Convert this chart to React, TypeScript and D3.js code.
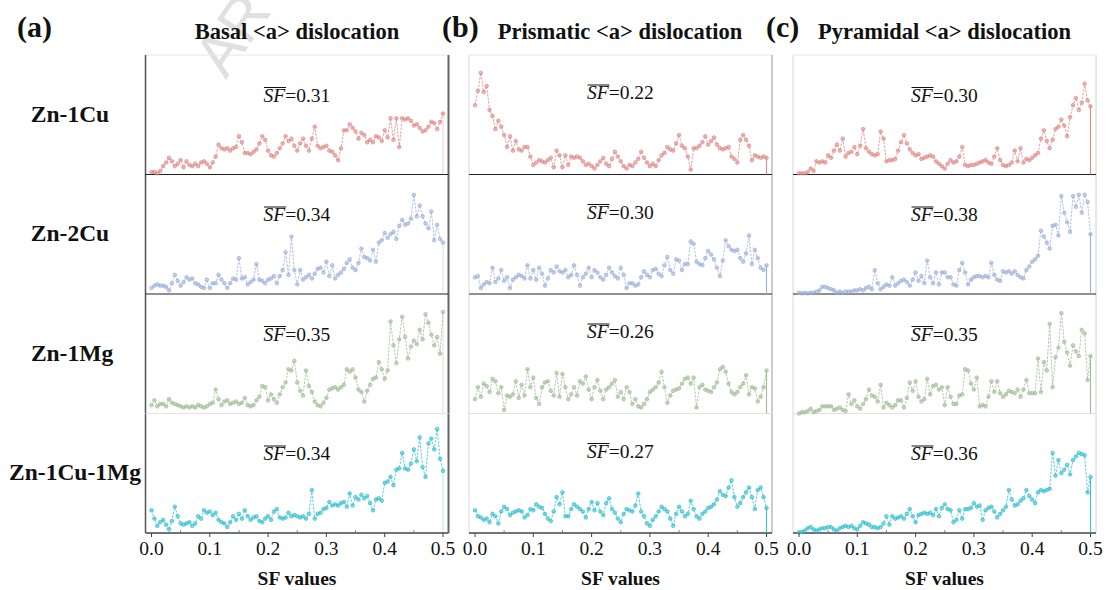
import React from "react";
import * as d3 from "d3";

// ---------- data ----------
const alloys = ["Zn-1Cu", "Zn-2Cu", "Zn-1Mg", "Zn-1Cu-1Mg"];
const systems = ["Basal <a> dislocation", "Prismatic <a> dislocation", "Pyramidal <a> dislocation"];
const panelTags = ["(a)", "(b)", "(c)"];
const xTicks = [0, 0.1, 0.2, 0.3, 0.4, 0.5];
const xMinorTicks = [0.05, 0.15, 0.25, 0.35, 0.45];
const binStep = 0.005;
const meanBasal = [0.31, 0.34, 0.35, 0.34];
const meanPrismatic = [0.22, 0.30, 0.26, 0.27];
const meanPyramidal = [0.30, 0.38, 0.35, 0.36];
const alloyColors = ["#dc8684", "#9aaed9", "#9cbb93", "#2dbdcd"];

// relative frequency (% of panel scale), bins 0..0.5 every 0.005
const basal_Zn1Cu = [2,2,1,3,7,10,14,11,7,9, 12,6,11,8,7,9,7,10,11,9, 6,10,15,25,22,21,22,20,22,23, 32,27,18,18,17,19,21,26,32,29, 20,16,15,18,22,26,32,28,30,24, 20,26,30,24,20,30,40,24,22,23, 24,20,19,16,12,22,37,37,42,39, 36,30,35,33,27,29,27,32,31,28, 37,31,47,29,47,23,47,46,47,45, 41,42,39,36,37,40,44,43,38,44, 51];
const basal_Zn2Cu = [5,7,8,7,7,6,3,9,16,11, 7,10,14,12,13,9,8,6,5,12, 5,9,9,16,12,9,5,9,13,12, 30,13,14,8,10,12,25,12,11,9, 12,13,15,9,15,20,35,16,48,20, 8,20,12,14,16,13,17,21,22,18, 27,15,24,13,16,18,21,26,29,22, 20,26,38,31,30,28,37,27,43,45, 51,47,50,52,46,57,62,58,59,63, 83,65,74,65,59,55,69,45,58,46, 43];
const basal_Zn1Mg = [7,11,6,8,8,6,12,9,8,7, 6,5,6,5,6,5,7,6,5,6, 8,9,20,12,7,10,11,8,9,10, 8,9,13,7,6,7,11,14,23,22, 11,16,12,9,16,22,26,37,36,44, 26,19,15,36,23,18,10,7,6,9, 13,20,21,22,20,22,24,37,35,37, 30,20,18,10,19,24,29,30,43,37, 29,36,77,57,42,62,81,64,46,56, 61,58,70,62,83,76,66,57,64,50, 85];
const basal_Zn1Cu1Mg = [19,12,6,9,11,7,3,10,22,14, 8,7,8,9,6,8,14,12,19,17, 18,15,17,11,9,8,5,9,14,11, 16,12,19,14,11,13,14,10,9,12, 14,11,18,20,13,12,13,17,14,15, 14,13,14,12,16,36,12,16,17,20, 21,26,23,24,23,25,26,22,33,23, 30,28,32,29,31,25,19,28,29,27, 42,43,47,40,53,54,67,54,53,58, 70,60,80,55,47,75,79,70,87,62, 52];

const prism_Zn1Cu = [58,70,85,69,74,54,49,38,45,40, 33,23,32,20,28,21,20,23,23,15, 8,10,12,11,10,12,14,6,20,16, 6,16,8,15,14,15,14,11,8,9, 7,5,8,11,14,9,7,13,19,15, 11,7,5,8,7,10,13,19,14,10, 7,9,7,12,16,18,23,21,20,26, 33,24,22,15,4,22,22,24,27,32, 25,28,31,25,22,21,22,23,15,13, 10,29,33,29,24,12,16,15,14,15, 14];
const prism_Zn2Cu = [14,15,5,8,10,9,22,10,13,20, 11,14,5,12,14,16,15,13,24,13, 20,12,22,17,7,13,20,18,23,19, 18,20,14,16,24,16,7,14,17,22, 14,20,18,14,12,16,22,18,15,13, 22,16,5,9,9,7,8,14,19,16, 14,20,21,17,15,24,31,20,17,29, 28,20,25,25,44,42,27,25,24,30, 36,33,29,22,15,28,45,40,37,36, 37,30,27,34,49,25,37,30,22,20, 24];
const prism_Zn1Mg = [12,22,14,25,23,18,29,27,17,22, 3,15,14,16,27,13,24,15,37,22, 30,13,8,22,26,27,19,15,34,14, 33,22,12,16,22,15,27,25,31,20, 12,22,28,19,12,20,22,25,28,14, 18,12,22,18,8,12,6,5,8,12, 18,20,22,26,35,22,9,15,19,20, 21,25,29,30,25,30,5,22,24,20, 19,18,22,26,37,39,35,25,18,16, 18,22,25,32,16,22,21,10,14,22, 36];
const prism_Zn1Cu1Mg = [19,14,13,11,12,9,16,14,8,18, 22,20,15,17,18,19,18,13,15,20, 19,24,22,21,16,12,10,18,30,24, 34,14,14,20,24,22,20,18,13,20, 26,19,25,18,15,25,29,20,17,12, 9,16,20,19,18,23,33,18,14,8, 6,11,14,18,22,20,18,12,6,16, 22,18,14,16,27,20,14,12,16,18, 21,22,24,28,35,32,31,38,44,30, 22,25,30,34,38,30,20,36,38,30, 21];

const pyr_Zn1Cu = [1,1,1,2,5,3,11,10,11,10, 16,14,20,25,20,30,15,18,19,23, 17,24,38,22,19,17,16,17,36,30, 11,12,12,13,20,27,33,26,21,18, 16,17,13,14,15,16,15,11,9,7, 5,9,12,10,11,15,23,8,7,8, 8,9,10,11,12,10,9,15,22,12, 8,7,8,10,20,11,22,10,13,12, 14,16,18,30,37,28,22,29,38,40, 46,41,32,48,58,64,54,60,76,62, 57];
const pyr_Zn2Cu = [1,0.5,1,0.5,1,1,2,3,6,6, 5,4,3,1,2,1,2,2,2,3, 3,4,3,5,6,4,20,9,4,6, 8,7,14,7,9,11,12,10,7,12, 18,11,15,9,28,14,9,18,8,18, 18,14,14,8,7,20,26,18,8,12, 14,15,15,14,15,14,26,16,12,11, 19,18,19,17,19,16,14,13,20,23, 27,29,32,53,48,43,38,57,58,49, 82,68,60,52,82,73,83,68,83,77, 50];
const pyr_Zn1Mg = [0,1,1,2,4,1,2,3,6,6, 6,6,3,4,5,3,2,16,8,11, 6,4,8,12,20,15,14,10,24,5, 9,7,5,7,11,11,5,13,26,19, 27,14,10,12,29,16,23,24,20,22, 7,22,14,8,8,15,16,37,36,25, 20,30,6,7,6,14,27,18,27,17, 14,16,19,18,17,20,14,20,28,17, 17,17,46,18,43,36,75,22,47,55, 84,60,51,40,57,52,48,70,67,28, 48];
const pyr_Zn1Cu1Mg = [0.5,1,2,4,5,3,2,3,4,4, 5,5,3,2,4,5,6,5,6,4, 3,6,9,8,7,5,5,4,5,8, 14,7,14,12,13,14,12,16,20,14, 9,15,16,17,16,17,15,20,14,21, 24,20,19,9,11,19,12,20,20,21, 25,22,23,11,19,21,22,18,13,16, 19,22,36,28,23,24,27,29,36,31, 28,25,34,36,35,36,37,67,48,61, 50,53,57,49,61,64,67,66,65,34, 47];

const seriesGrid = [
  [basal_Zn1Cu, basal_Zn2Cu, basal_Zn1Mg, basal_Zn1Cu1Mg],
  [prism_Zn1Cu, prism_Zn2Cu, prism_Zn1Mg, prism_Zn1Cu1Mg],
  [pyr_Zn1Cu, pyr_Zn2Cu, pyr_Zn1Mg, pyr_Zn1Cu1Mg],
];
const meanGrid = [meanBasal, meanPrismatic, meanPyramidal];

// ---------- layout ----------
const W = 1107;
const H = 590;
const colLeft = [145.5, 469, 793];
const panelW = 303;
const rowEdges = [55, 174.5, 294, 413.5, 533];
const serif = "'Liberation Serif', 'Times New Roman', Times, serif";

function Panel({ col, row }: { col: number; row: number }) {
  const left = colLeft[col];
  const top = rowEdges[row];
  const bottom = rowEdges[row + 1];
  const x = d3.scaleLinear().domain([0, 0.5]).range([left + 6, left + 297.5]);
  const y = d3.scaleLinear().domain([0, 100]).range([bottom, top]);
  const vals = seriesGrid[col][row];
  const pts: [number, number][] = vals.map((v, i) => [i * binStep, v]);
  const last = pts[pts.length - 1];
  const line = d3
    .line<[number, number]>()
    .x((d) => x(d[0]))
    .y((d) => y(d[1]));
  const color = alloyColors[row];
  const cx = left + panelW / 2;
  const baseOff = col === 1 ? 44 : 46.5;
  const fs = 19.5;
  const sfW = 22;
  const restW = 45;
  const startX = cx - (sfW + restW) / 2;
  const by = top + baseOff;
  return (
    <g>
      <path d={line(pts) || ""} fill="none" stroke={color} strokeWidth={0.9} strokeDasharray="2.5 1.2" opacity={0.85} />
      <line x1={x(last[0])} x2={x(0.5)} y1={y(last[1])} y2={y(0)} stroke={color} strokeWidth={1.1} opacity={col === 0 ? 0.35 : 0.95} />
      {pts.map((d, i) => (
        <circle key={i} cx={x(d[0])} cy={y(d[1])} r={1.8} fill={color} fillOpacity={0.55} stroke={color} strokeWidth={0.7} />
      ))}
      <text x={startX} y={by} fontFamily={serif} fontSize={fs} fill="#111">
        <tspan fontStyle="italic">SF</tspan>
        <tspan>={meanGrid[col][row].toFixed(2)}</tspan>
      </text>
      <line x1={startX + 0.5} x2={startX + sfW + 0.5} y1={by - 14} y2={by - 14} stroke="#111" strokeWidth={1} />
    </g>
  );
}

export default function App() {
  return (
    <svg width={W} height={H} style={{ position: "absolute", left: 0, top: 0, background: "#fff" }}>
      <rect x={0} y={0} width={W} height={H} fill="#fff" />
      {/* watermark */}
      <text x={226} y={80} transform="rotate(-56 226 80)" fontFamily="'Liberation Sans', Arial, sans-serif" fontSize={60} fill="#e0e0e0">
        AR
      </text>
      {/* frames */}
      {colLeft.map((l, c) => (
        <g key={"f" + c}>
          <line x1={l} x2={l + panelW} y1={rowEdges[0]} y2={rowEdges[0]} stroke="#e6e6e6" strokeWidth={1} />
          <line x1={l} x2={l} y1={rowEdges[0]} y2={rowEdges[4]} stroke={c === 0 ? "#555" : "#d8d8d8"} strokeWidth={c === 0 ? 1.5 : 1} />
          <line x1={l + panelW} x2={l + panelW} y1={rowEdges[0]} y2={rowEdges[4]} stroke={c === 0 ? "#666" : c === 1 ? "#999" : "#d0d0d0"} strokeWidth={c === 0 ? 2 : 1} />
          <line x1={l} x2={l + panelW} y1={rowEdges[1]} y2={rowEdges[1]} stroke="#222" strokeWidth={1.2} />
          <line x1={l} x2={l + panelW} y1={rowEdges[2]} y2={rowEdges[2]} stroke="#222" strokeWidth={1.2} />
          <line x1={l} x2={l + panelW} y1={rowEdges[3]} y2={rowEdges[3]} stroke="#e2e2e2" strokeWidth={1} />
          <line x1={l} x2={l + panelW} y1={rowEdges[4]} y2={rowEdges[4]} stroke="#444" strokeWidth={1.3} />
        </g>
      ))}
      {/* panels */}
      {[0, 1, 2].map((c) => [0, 1, 2, 3].map((r) => <Panel key={c + "-" + r} col={c} row={r} />))}
      {/* x axes and titles */}
      {colLeft.map((l, c) => {
        const x = d3.scaleLinear().domain([0, 0.5]).range([l + 6, l + 297.5]);
        return (
          <g key={"ax" + c}>
            {xTicks.map((t) => (
              <g key={t}>
                <line x1={x(t)} x2={x(t)} y1={rowEdges[4]} y2={rowEdges[4] + 4} stroke="#444" strokeWidth={1} />
                <text x={x(t)} y={555} textAnchor="middle" fontFamily={serif} fontSize={19.5} fill="#111">
                  {d3.format(".1f")(t)}
                </text>
              </g>
            ))}
            {xMinorTicks.map((t) => (
              <line key={t} x1={x(t)} x2={x(t)} y1={rowEdges[4]} y2={rowEdges[4] - 3} stroke="#666" strokeWidth={0.8} />
            ))}
            <text x={l + panelW / 2} y={585} textAnchor="middle" fontFamily={serif} fontSize={19.5} fontWeight="bold" fill="#111">
              SF values
            </text>
            <text x={[17, 442, 766][c]} y={37} fontFamily={serif} fontSize={30} fontWeight="bold" fill="#111">
              {panelTags[c]}
            </text>
            <text x={[297, 620, 944.5][c]} y={39} textAnchor="middle" fontFamily={serif} fontSize={22.5} fontWeight="bold" fill="#111">
              {systems[c]}
            </text>
          </g>
        );
      })}
      {/* row labels */}
      {alloys.map((a, r) => (
        <text key={a} x={[70, 70, 72, 75][r]} y={[122, 241, 361, 480][r]} textAnchor="middle" fontFamily={serif} fontSize={23.5} fontWeight="bold" fill="#111">
          {a}
        </text>
      ))}
    </svg>
  );
}
